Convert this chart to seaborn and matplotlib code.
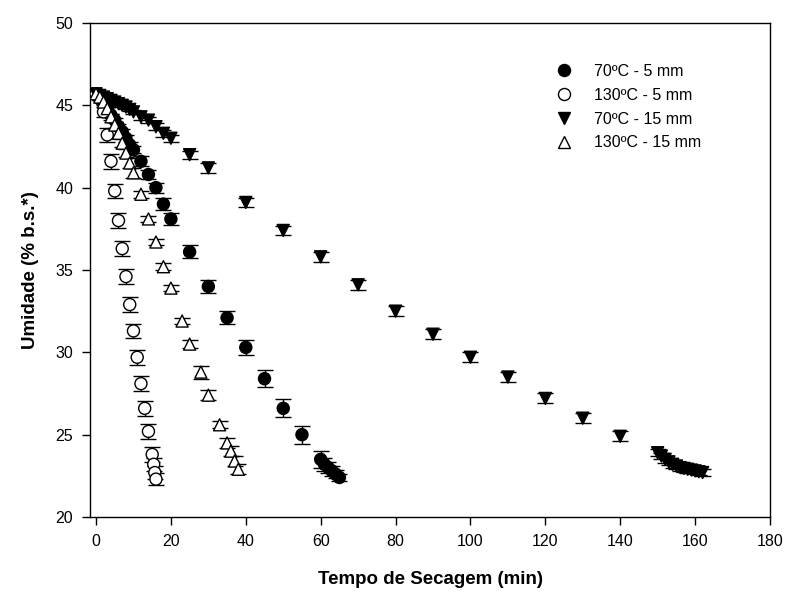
import numpy as np
import pandas as pd
import seaborn as sns
import matplotlib
matplotlib.use("Agg")
import matplotlib.pyplot as plt

# dados (tempo em min, umidade em % b.s.)
t_70_5 = [0, 1, 2, 3, 4, 5, 6, 7, 8, 9, 10, 12, 14, 16, 18, 20, 25, 30, 35, 40,
          45, 50, 55, 60, 61, 62, 63, 64, 65]
u_70_5 = [45.7, 45.4, 45.1, 44.8, 44.4, 44.1, 43.7, 43.4, 43.0, 42.6, 42.3, 41.6,
          40.8, 40.0, 39.0, 38.1, 36.1, 34.0, 32.1, 30.3, 28.4, 26.6, 25.0, 23.5,
          23.2, 23.0, 22.8, 22.6, 22.4]
e_70_5 = [0.1, 0.1, 0.1, 0.1, 0.1, 0.1, 0.15, 0.15, 0.2, 0.2, 0.2, 0.3, 0.3, 0.3,
          0.35, 0.35, 0.4, 0.4, 0.4, 0.45, 0.5, 0.55, 0.55, 0.5, 0.4, 0.35, 0.3,
          0.25, 0.2]

t_130_5 = [0, 1, 2, 3, 4, 5, 6, 7, 8, 9, 10, 11, 12, 13, 14, 15, 15.4, 15.7, 16.0]
u_130_5 = [45.7, 45.5, 44.6, 43.2, 41.6, 39.8, 38.0, 36.3, 34.6, 32.9, 31.3, 29.7,
           28.1, 26.6, 25.2, 23.8, 23.2, 22.7, 22.3]
e_130_5 = [0.1, 0.15, 0.3, 0.4, 0.45, 0.45, 0.45, 0.45, 0.45, 0.45, 0.45, 0.45,
           0.45, 0.45, 0.45, 0.45, 0.4, 0.4, 0.35]

t_70_15 = [0, 1, 2, 3, 4, 5, 6, 7, 8, 9, 10, 12, 14, 16, 18, 20, 25, 30, 40, 50,
           60, 70, 80, 90, 100, 110, 120, 130, 140, 150, 151, 152, 153, 154, 155,
           156, 157, 158, 159, 160, 161, 162]
u_70_15 = [45.7, 45.6, 45.5, 45.4, 45.3, 45.2, 45.1, 45.0, 44.9, 44.75, 44.6, 44.3,
           44.1, 43.7, 43.3, 43.0, 42.0, 41.2, 39.1, 37.4, 35.8, 34.1, 32.5, 31.1,
           29.7, 28.5, 27.2, 26.0, 24.9, 23.9, 23.7, 23.5, 23.35, 23.2, 23.1, 23.0,
           22.95, 22.9, 22.85, 22.8, 22.75, 22.7]
e_70_15 = [0.1] * 11 + [0.2] * 5 + [0.25, 0.3, 0.3, 0.3, 0.3, 0.3, 0.3, 0.3, 0.3,
                                    0.3, 0.3, 0.3, 0.3] + [0.2] * 13

t_130_15 = [0, 1, 2, 3, 4, 5, 6, 7, 8, 9, 10, 12, 14, 16, 18, 20, 23, 25, 28, 30,
            33, 35, 36, 37, 38]
u_130_15 = [45.7, 45.5, 45.2, 44.8, 44.3, 43.8, 43.3, 42.7, 42.1, 41.5, 40.9, 39.6,
            38.1, 36.7, 35.2, 33.9, 31.9, 30.5, 28.8, 27.4, 25.6, 24.5, 24.0, 23.4,
            22.9]
e_130_15 = [0.1, 0.1, 0.15, 0.2, 0.2, 0.2, 0.25, 0.25, 0.25, 0.3, 0.3, 0.2, 0.2,
            0.2, 0.2, 0.2, 0.2, 0.25, 0.4, 0.3, 0.2, 0.3, 0.3, 0.3, 0.3]

series = {
    "70ºC - 5 mm": (t_70_5, u_70_5, e_70_5),
    "130ºC - 5 mm": (t_130_5, u_130_5, e_130_5),
    "70ºC - 15 mm": (t_70_15, u_70_15, e_70_15),
    "130ºC - 15 mm": (t_130_15, u_130_15, e_130_15),
}
cores = {"70ºC - 5 mm": "black", "130ºC - 5 mm": "white",
         "70ºC - 15 mm": "black", "130ºC - 15 mm": "white"}
marcadores = {"70ºC - 5 mm": "o", "130ºC - 5 mm": "o",
              "70ºC - 15 mm": "v", "130ºC - 15 mm": "^"}

df = pd.concat([pd.DataFrame({"tempo": t, "umidade": u, "serie": nome})
                for nome, (t, u, e) in series.items()], ignore_index=True)

sns.set_style("ticks")
plt.rcParams['font.family'] = ['Liberation Sans', 'DejaVu Sans']
plt.rcParams.update({'text.color': 'black', 'axes.labelcolor': 'black',
                     'xtick.color': 'black', 'ytick.color': 'black',
                     'axes.edgecolor': 'black'})

fig, ax = plt.subplots(figsize=(7.87, 5.97), dpi=100)
fig.subplots_adjust(left=0.1144, right=0.9784, top=0.9615, bottom=0.134)

for nome, (t, u, e) in series.items():
    ax.errorbar(t, u, yerr=e, fmt='none', ecolor='black', elinewidth=1,
                capsize=6, capthick=1, zorder=2)

sns.scatterplot(data=df, x="tempo", y="umidade", hue="serie", style="serie",
                palette=cores, markers=marcadores, edgecolor="black",
                linewidth=1, s=75, ax=ax, zorder=3)

ax.set_xlim(-1.6, 180)
ax.set_ylim(20, 50)
ax.set_xticks(np.arange(0, 181, 20))
ax.set_yticks(np.arange(20, 51, 5))
ax.tick_params(direction='out', length=6, width=1, labelsize=11.5, pad=6)
for sp in ax.spines.values():
    sp.set_linewidth(1)

ax.set_xlabel("Tempo de Secagem (min)", fontsize=13.5, fontweight='bold', labelpad=16)
ax.set_ylabel("Umidade (% b.s.*)", fontsize=13.5, fontweight='bold', labelpad=12)

leg = ax.legend(frameon=False, loc='upper left', bbox_to_anchor=(0.664, 0.93),
                borderaxespad=0, fontsize=11.5, handletextpad=0.9,
                labelspacing=0.55, title=None)

fig.savefig("out.png", dpi=100)
